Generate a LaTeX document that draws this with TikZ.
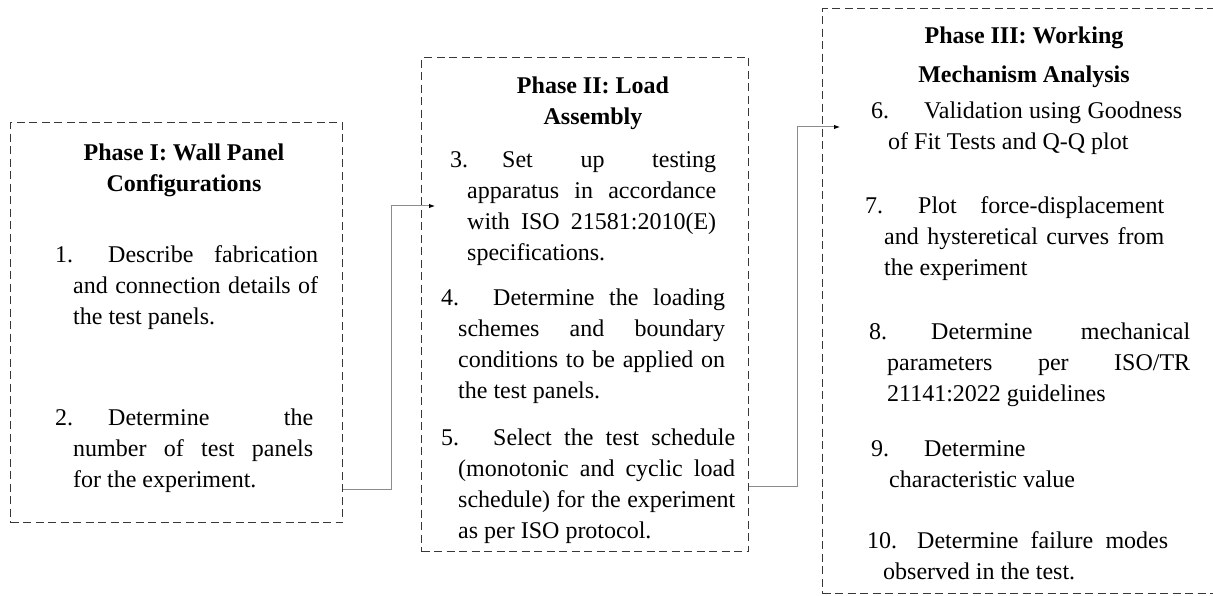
\documentclass[tikz,border=0pt]{standalone}
\usepackage{fontspec}
\setmainfont{Liberation Serif}
\usetikzlibrary{arrows.meta}
\setlength{\parindent}{0pt}
% step text: [number width]{text width}{hanging indent}{number}{text}
\newcommand{\steptext}[5][53pt]{\parbox[t]{#2}{\hangindent=#3\hangafter=1\relax\makebox[#1][l]{\strut#4}#5}}
\tikzset{
    phasebox/.style = {rectangle, draw=black!78, line width=1.1pt, dash pattern=on 8pt off 4.5pt, anchor=north west, inner sep=0pt},
    phasehead/.style = {anchor=north, align=center, inner sep=0pt, font=\fontsize{24}{31}\selectfont\bfseries},
    itemtext/.style = {anchor=north west, inner sep=0pt, font=\fontsize{24}{31}\selectfont},
    edgeg/.style = {-{Latex[length=6pt,width=4.5pt,color=black]}, line width=1pt, draw=black!45},
}
\begin{document}
\begin{tikzpicture}[x=1pt,y=-1pt]
\path[use as bounding box, fill=white] (0,0) rectangle (1213,596);
%
\node[phasebox, minimum width=332pt, minimum height=400pt] (p1) at (10,122) {};
\node[phasebox, minimum width=327pt, minimum height=494pt] (p2) at (421,57) {};
\node[phasebox, minimum width=410pt, minimum height=585pt] (p3) at (822,8) {};
%
\node[phasehead] (t1) at (184,138.3) {\strut Phase I: Wall Panel\\Configurations};
\node[phasehead] (t2) at (593,71.3) {\strut Phase II: Load\\Assembly};
\node[phasehead] (t3) at (1024,21.3) {\strut Phase III: Working\\[8pt]Mechanism Analysis};
%
\node[itemtext] (s1) at (55,240.3) {\steptext{263pt}{18pt}{1.}{Describe fabrication\linebreak and connection details of\linebreak the test panels.}};
\node[itemtext] (s2) at (55,403.3) {\steptext{258pt}{18pt}{2.}{Determine the\linebreak number of test panels\linebreak for the experiment.}};
%
\node[itemtext] (s3) at (450,145.3) {\steptext[52pt]{266pt}{17pt}{3.}{Set up testing\linebreak apparatus in accordance\linebreak with ISO 21581:2010(E)\linebreak specifications.}};
\node[itemtext] (s4) at (441,283.3) {\steptext[52pt]{284pt}{17pt}{4.}{Determine the loading\linebreak schemes and boundary\linebreak conditions to be applied on\linebreak the test panels.}};
\node[itemtext] (s5) at (441,423.3) {\steptext[52pt]{294pt}{17pt}{5.}{Select the test schedule\linebreak (monotonic and cyclic load\linebreak schedule) for the experiment\linebreak as per ISO protocol.}};
%
\node[itemtext] (s6) at (871,96.3) {\steptext{311pt}{17pt}{6.}{Validation using Goodness\linebreak of Fit Tests and Q-Q plot}};
\node[itemtext] (s7) at (865,191.3) {\steptext{299pt}{19pt}{7.}{Plot force-displacement\linebreak and hysteretical curves from\linebreak the experiment}};
\node[itemtext] (s8) at (869,317.3) {\steptext[62pt]{321pt}{18pt}{8.}{Determine mechanical\linebreak parameters per ISO/TR\linebreak 21141:2022 guidelines}};
\node[itemtext] (s9) at (871,434.3) {\steptext{250pt}{18pt}{9.}{Determine\\characteristic value}};
\node[itemtext] (s10) at (867,526.3) {\steptext[50pt]{301pt}{16pt}{10.}{Determine failure modes\linebreak observed in the test.}};
%
\coordinate (in2) at (435,206);
\coordinate (in3) at (840,127);
\draw[edgeg] ([yshift=34pt]p1.south east) -- ++(48,0) |- (in2);
\draw[edgeg] ([yshift=66pt]p2.south east) -- ++(48,0) |- (in3);

\end{tikzpicture}
\end{document}
